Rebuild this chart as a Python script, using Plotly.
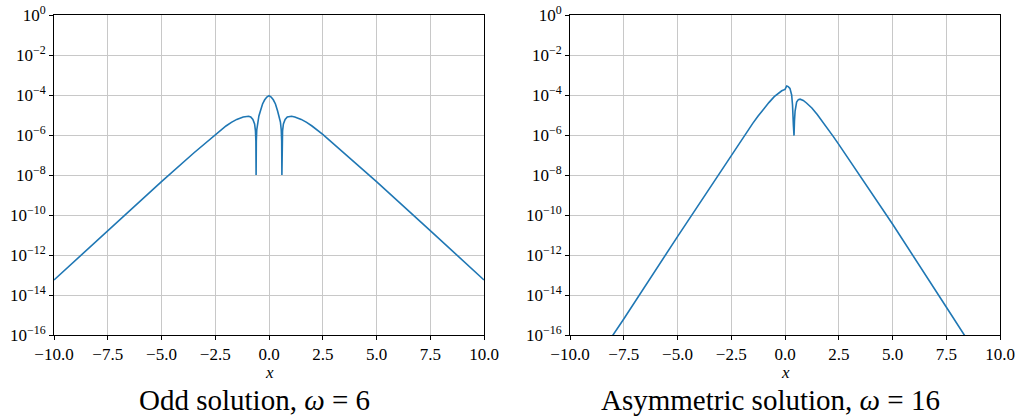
import plotly.graph_objects as go
from plotly.subplots import make_subplots

# ---- data (y given as log10 of the value) ----
odd_x = [-10.0, -7.5, -5.0, -3.5, -2.5, -2.0, -1.75, -1.5, -1.2, -1.05, -0.95, -0.85, -0.75,
         -0.67, -0.63, -0.61, -0.60, -0.59, -0.57, -0.53, -0.47, -0.40, -0.30, -0.20,
         -0.10, 0.0, 0.10, 0.20, 0.30, 0.40, 0.47, 0.53, 0.57, 0.59, 0.60, 0.61, 0.63,
         0.67, 0.75, 0.85, 0.95, 1.05, 1.2, 1.5, 1.75, 2.0, 2.5, 3.5, 5.0, 7.5, 10.0]
odd_log = [-13.25, -10.78, -8.33, -6.90, -5.97, -5.55, -5.37, -5.22, -5.10, -5.06, -5.06, -5.10, -5.22,
           -5.45, -5.80, -6.30, -8.00, -6.30, -5.75, -5.35, -5.05, -4.80, -4.45, -4.24,
           -4.10, -4.03, -4.10, -4.24, -4.45, -4.80, -5.05, -5.35, -5.75, -6.30, -8.00, -6.30, -5.80,
           -5.45, -5.22, -5.10, -5.06, -5.06, -5.10, -5.22, -5.37, -5.55, -5.97, -6.90, -8.33, -10.78, -13.25]

asym_x = [-8.05, -7.5, -5.0, -2.5, -2.09, -1.75, -1.5, -1.25, -1.0, -0.75, -0.5, -0.3, -0.15,
          0.0, 0.04, 0.08, 0.15, 0.23, 0.31, 0.35, 0.39, 0.42, 0.44, 0.47, 0.54, 0.62,
          0.70, 0.85, 1.0, 1.25, 1.5, 1.75, 2.0, 2.25, 2.5, 3.0, 3.57, 5.0, 7.5, 8.4]
asym_log = [-16.08, -15.20, -11.08, -7.00, -6.35, -5.81, -5.42, -5.05, -4.70, -4.38, -4.08, -3.89, -3.79,
            -3.72, -3.62, -3.55, -3.58, -3.67, -4.00, -4.50, -5.50, -6.03, -5.30, -4.80, -4.35, -4.23,
            -4.21, -4.27, -4.40, -4.65, -4.98, -5.33, -5.70, -6.08, -6.47, -7.27, -8.18, -10.45, -14.60, -16.10]

panel_titles = ["Odd solution, <i>\u03c9</i> = 6", "Asymmetric solution, <i>\u03c9</i> = 16"]

x_ticks = [-10.0, -7.5, -5.0, -2.5, 0.0, 2.5, 5.0, 7.5, 10.0]
x_ticktext = [("\u2212" if v < 0 else "") + f"{abs(v):.1f}" for v in x_ticks]
y_exps = [0, -2, -4, -6, -8, -10, -12, -14, -16]
y_ticks = [10.0 ** e for e in y_exps]
y_ticktext = ["10<sup>" + ("\u2212" if e < 0 else "") + f"{abs(e)}</sup>" for e in y_exps]

FONT = "Liberation Serif"
LINE = "#1f77b4"

fig = make_subplots(rows=1, cols=2)
fig.add_trace(go.Scatter(x=odd_x, y=[10.0 ** v for v in odd_log], mode="lines",
                         line=dict(color=LINE, width=1.6), showlegend=False), row=1, col=1)
fig.add_trace(go.Scatter(x=asym_x, y=[10.0 ** v for v in asym_log], mode="lines",
                         line=dict(color=LINE, width=1.6), showlegend=False), row=1, col=2)

W, H = 1018, 416
TOP, BOT = 15, 335
PH = BOT - TOP
doms = [(54 / W, 484 / W), (570 / W, 1000 / W)]
for i, (d0, d1) in enumerate(doms, start=1):
    xa = "xaxis" if i == 1 else f"xaxis{i}"
    ya = "yaxis" if i == 1 else f"yaxis{i}"
    fig.layout[xa].update(domain=[d0, d1], range=[-10, 10], tickvals=x_ticks, ticktext=x_ticktext,
                          automargin=False, ticklabeloverflow="allow",
                          showgrid=True, gridcolor="#c8c8c8", gridwidth=1, zeroline=False,
                          showline=True, linecolor="black", linewidth=1, mirror=True,
                          ticks="outside", ticklen=4, tickcolor="black",
                          tickfont=dict(family=FONT, size=17, color="black"))
    fig.layout[ya].update(type="log", range=[-16, 0], tickvals=y_ticks, ticktext=y_ticktext,
                          automargin=False, ticklabeloverflow="allow",
                          showgrid=True, gridcolor="#c8c8c8", gridwidth=1, zeroline=False,
                          showline=True, linecolor="black", linewidth=1, mirror=True,
                          ticks="outside", ticklen=4, tickcolor="black",
                          tickfont=dict(family=FONT, size=17, color="black"))
    xc = (d0 + d1) / 2
    fig.add_annotation(x=xc, y=-37 / PH, xref="paper", yref="paper", text="<i>x</i>",
                       showarrow=False, xanchor="center", yanchor="middle",
                       font=dict(family=FONT, size=17, color="black"))
    fig.add_annotation(x=xc - 15 / W, y=-65 / PH, xref="paper", yref="paper", text=panel_titles[i - 1],
                       showarrow=False, xanchor="center", yanchor="middle",
                       font=dict(family=FONT, size=29, color="black"))

fig.update_layout(width=W, height=H, margin=dict(l=0, r=0, t=TOP, b=H - BOT, autoexpand=False),
                  paper_bgcolor="white", plot_bgcolor="white")
fig.write_html("out.html", config={"displayModeBar": False},
               post_script="document.body.style.margin='0px';")
